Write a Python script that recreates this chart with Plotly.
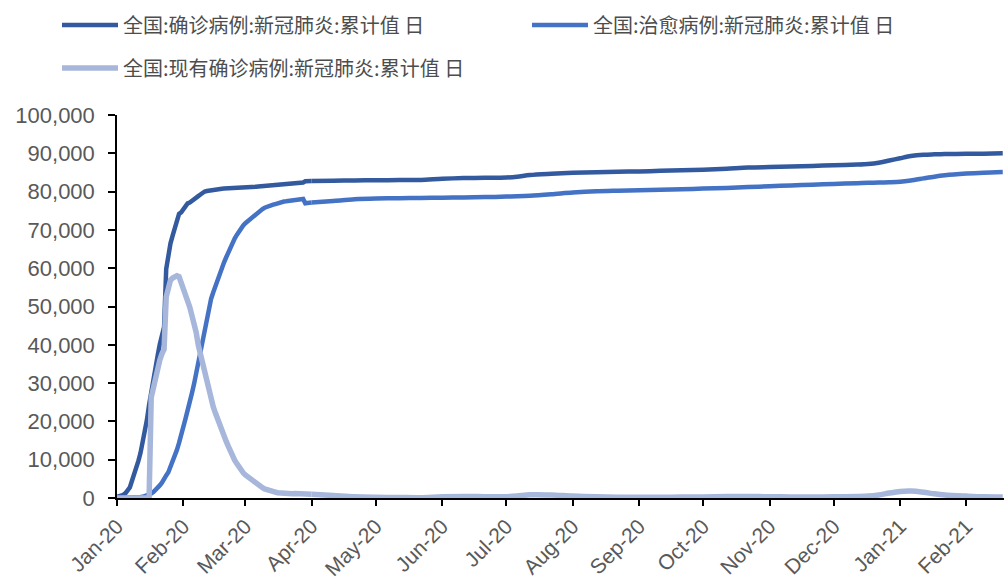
import pandas as pd
import plotly.graph_objects as go

# ---- dates: daily through 2020-04-20, then sparser ----
daily_dates = [d.strftime("%Y-%m-%d") for d in pd.date_range("2020-01-20", "2020-04-20", freq="D")]
later_dates = [
    "2020-04-30", "2020-05-10", "2020-05-20", "2020-05-31", "2020-06-10", "2020-06-20",
    "2020-06-30", "2020-07-10", "2020-07-20", "2020-07-25", "2020-07-31", "2020-08-10",
    "2020-08-20", "2020-08-31", "2020-09-10", "2020-09-20", "2020-09-30", "2020-10-10",
    "2020-10-20", "2020-10-31", "2020-11-10", "2020-11-20", "2020-11-30", "2020-12-10",
    "2020-12-20", "2020-12-31", "2021-01-05", "2021-01-10", "2021-01-15", "2021-01-20",
    "2021-01-25", "2021-01-31", "2021-02-05", "2021-02-10", "2021-02-20", "2021-02-28",
    "2021-03-09",
]
dates = daily_dates + later_dates

# 全国:确诊病例 (cumulative confirmed)
confirmed = [
    291, 440, 571, 830, 1287, 1975, 2744, 4515, 5974, 7711, 9692, 11791,
    14380, 17205, 20438, 24324, 28018, 31161, 34546, 37198, 40171, 42638, 44653, 59804,
    63851, 66492, 68500, 70548, 72436, 74185, 74576, 75465, 76288, 76936, 77150, 77658,
    78064, 78497, 78824, 79251, 79824,
    80026, 80151, 80270, 80409, 80552, 80651, 80695, 80735, 80754, 80778, 80793, 80813,
    80824, 80844, 80860, 80881, 80894, 80928, 80967, 81008, 81054, 81093, 81171, 81218,
    81285, 81340, 81394, 81439, 81470, 81518, 81554,
    81589, 81620, 81639, 81669, 81708, 81740, 81802, 81865, 81907, 81953, 82052, 82160,
    82249, 82295, 82341, 82367, 82692, 82719, 82735, 82747,
    82862, 82901, 82965, 83017, 83057, 83352, 83531, 83585, 83682, 83891, 84337, 84668,
    84917, 85058, 85168, 85279, 85414, 85578, 85715, 85997, 86284, 86414, 86542, 86701,
    86867, 87071, 87215, 87536, 88118, 88701, 89272, 89619, 89720, 89788, 89852, 89912,
    89988,
]

# 全国:治愈病例 (cumulative recovered)
cured = [
    25, 25, 28, 34, 38, 49, 51, 60, 103, 124, 171, 243,
    328, 475, 632, 892, 1153, 1540, 2050, 2649, 3281, 3996, 4740, 5911,
    6723, 8096, 9419, 10844, 12552, 14376, 16155, 18264, 20659, 22888, 24734, 27323,
    29745, 32495, 36117, 39002, 41625,
    44462, 47204, 49856, 52045, 53726, 55404, 57065, 58600, 59897, 61475, 62793, 64111,
    65541, 66911, 67749, 68679, 69601, 70420, 71150, 71740, 72244, 72703, 73159, 73650,
    74051, 74588, 74971, 75448, 75790, 76052, 76238,
    76408, 76571, 76751, 76964, 77167, 77310, 77410, 77455, 77575, 77663, 77738, 77816,
    77877, 77956, 78022, 78080, 76950, 77020, 77080, 77150,
    77560, 77980, 78180, 78280, 78350, 78410, 78470, 78560, 78700, 78780, 78920, 79300,
    79750, 80100, 80250, 80380, 80480, 80620, 80780, 80960, 81190, 81400, 81600, 81800,
    81980, 82200, 82280, 82360, 82450, 82580, 82900, 83450, 83900, 84250, 84700, 84950,
    85150,
]

# 全国:现有确诊病例 (active cases)
current = [
    0, 0, 0, 0, 0, 0, 0, 0, 0, 0, 0, 0,
    0, 0, 0, 0, 26302, 28985, 31774, 33738, 35982, 37626, 38800, 52526,
    55748, 56873, 57416, 57934, 58016, 57805, 56303, 54965, 53284, 51606, 49824, 47672,
    45604, 43258, 39919, 37414, 35329,
    32652, 30004, 27433, 25352, 23784, 22177, 20533, 19016, 17721, 16145, 14831, 13526,
    12094, 10734, 9898, 8976, 8056, 7263, 6569, 6013, 5549, 5120, 4735, 4287,
    3947, 3460, 3128, 2691, 2396, 2161, 2004,
    1863, 1727, 1562, 1376, 1299, 1242, 1190, 1160, 1116, 1089, 1138, 1156,
    1170, 1137, 1107, 1081, 1058, 1040, 1003, 966,
    650, 300, 180, 120, 80, 330, 420, 350, 320, 500, 850, 800,
    500, 320, 220, 190, 200, 230, 290, 380, 400, 330, 270, 260,
    300, 400, 500, 800, 1300, 1700, 1800, 1500, 1100, 800, 500, 300,
    250,
]

series_names = [
    "全国:确诊病例:新冠肺炎:累计值 日",
    "全国:治愈病例:新冠肺炎:累计值 日",
    "全国:现有确诊病例:新冠肺炎:累计值 日",
]
series_colors = ["#335A9E", "#4472C4", "#A7B6DB"]
series_widths = [4.5, 4.5, 5.5]

tick_dates = [
    "2020-01-20", "2020-02-20", "2020-03-20", "2020-04-20", "2020-05-20", "2020-06-20",
    "2020-07-20", "2020-08-20", "2020-09-20", "2020-10-20", "2020-11-20", "2020-12-20",
    "2021-01-20", "2021-02-20",
]
tick_labels = [
    "Jan-20", "Feb-20", "Mar-20", "Apr-20", "May-20", "Jun-20", "Jul-20", "Aug-20",
    "Sep-20", "Oct-20", "Nov-20", "Dec-20", "Jan-21", "Feb-21",
]

assert len(dates) == len(confirmed) == len(cured) == len(current)
n_daily = len(daily_dates)

fig = go.Figure()
legend_ids = ["legend", "legend2", "legend3"]
for name, vals, color, width, lg in zip(series_names, [confirmed, cured, current],
                                        series_colors, series_widths, legend_ids):
    # daily section drawn point to point
    fig.add_trace(go.Scatter(
        x=dates[:n_daily], y=vals[:n_daily], name=name, mode="lines",
        line=dict(color=color, width=width),
        legend=lg, legendgroup=name, cliponaxis=False,
    ))
    # sparser section drawn as a smooth curve, joined at the last daily point
    fig.add_trace(go.Scatter(
        x=dates[n_daily - 1:], y=vals[n_daily - 1:], name=name, mode="lines",
        line=dict(color=color, width=width, shape="spline", smoothing=0.8),
        legend=lg, legendgroup=name, showlegend=False, cliponaxis=False,
    ))

x_tick_font = dict(family="Liberation Sans, Arial, sans-serif", size=21, color="#595959")
y_tick_font = dict(family="Liberation Sans, Arial, sans-serif", size=22, color="#595959")
legend_font = dict(family="Noto Sans CJK SC, sans-serif", size=20, color="#4D4D4D")

def legend_box(x_px, y_px):
    return dict(
        xref="container", yref="container",
        x=x_px / 1004, y=1 - y_px / 581,
        xanchor="left", yanchor="middle",
        orientation="h", font=legend_font, itemwidth=56,
        bgcolor="rgba(0,0,0,0)", borderwidth=0,
    )

fig.update_layout(
    width=1004, height=581,
    margin=dict(l=117, r=0, t=115, b=83, autoexpand=False),
    paper_bgcolor="white", plot_bgcolor="white",
    showlegend=True,
    legend=legend_box(57, 25),
    legend2=legend_box(527, 25),
    legend3=legend_box(57, 68),
    xaxis=dict(
        type="date",
        range=["2020-01-20", "2021-03-09 14:00"],
        tickvals=tick_dates, ticktext=tick_labels,
        tickangle=-45, tickfont=x_tick_font, automargin=False,
        ticks="outside", ticklen=6, tickwidth=1.5, tickcolor="black",
        showline=True, linecolor="black", linewidth=1.5,
        showgrid=False, zeroline=False, layer="below traces",
    ),
    yaxis=dict(
        range=[0, 100000], dtick=10000, tickformat=",d",
        tickfont=y_tick_font, ticklabelstandoff=9, automargin=False,
        ticks="outside", ticklen=7, tickwidth=1.5, tickcolor="black",
        showline=True, linecolor="black", linewidth=1.5,
        showgrid=False, zeroline=False,
    ),
)

fig.write_html("out.html")
